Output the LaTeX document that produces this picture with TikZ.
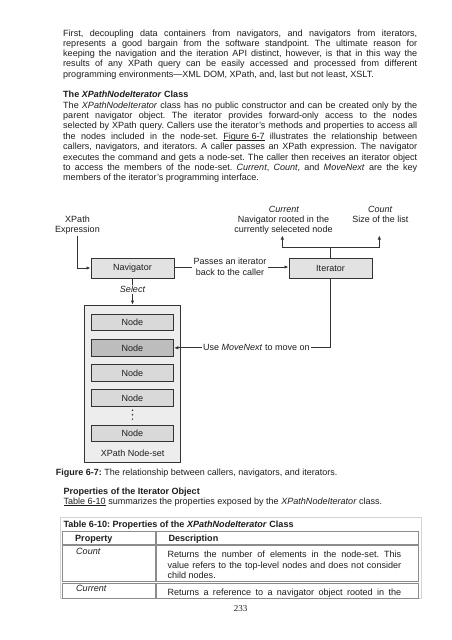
\documentclass[tikz,border=0pt]{standalone}
\usepackage{fontspec}
\setmainfont{Liberation Sans}
\newfontfamily\pnfont{Liberation Serif}
\usetikzlibrary{arrows.meta}
\frenchspacing
\definecolor{ink}{HTML}{1E1E1E}
\definecolor{linec}{HTML}{333333}
\definecolor{boxfill}{HTML}{E2E2E2}
\definecolor{setfill}{HTML}{EDEDED}
\definecolor{nodefill}{HTML}{D9D9D9}
\definecolor{selfill}{HTML}{BDBDBD}
\definecolor{tabline}{HTML}{8C8C8C}
\definecolor{tabouter}{HTML}{D4D4D4}
\newcommand\jl[2]{\hbox to #1pt{#2}}
\newcommand\myul[1]{\setbox0\hbox{#1}\rlap{\rule[-1.4pt]{\wd0}{0.55pt}}\box0\relax}
\tikzset{
  txt/.style={anchor=base west, inner sep=0pt, font=\fontsize{9.05}{10.3}\selectfont, text=ink},
  lbl/.style={anchor=base, inner sep=0pt, font=\fontsize{9}{10}\selectfont, text=ink},
  mainbox/.style={draw=linec, line width=1pt, fill=boxfill, minimum width=83pt, minimum height=20pt, inner sep=0pt, font=\fontsize{9}{10}\selectfont, text=ink},
  nodebox/.style={draw=linec, line width=1pt, fill=nodefill, minimum width=82.7pt, minimum height=16.4pt, inner sep=0pt, font=\fontsize{9}{10}\selectfont, text=ink},
  conn/.style={draw=linec, line width=0.9pt},
  arr/.style={conn, -{Latex[length=4pt,width=3.4pt]}},
  cell/.style={draw=tabline, line width=0.8pt},
}
\begin{document}
\begin{tikzpicture}[x=1pt,y=-1pt]
\path[use as bounding box, fill=white] (0,0) rectangle (452,640);
% ---- paragraph 1
\node[txt] (a1) at (63,36.2) {\jl{354}{First, decoupling data containers from navigators, and navigators from iterators,}};
\node[txt] (a2) at (63,46.45) {\jl{354}{represents a good bargain from the software standpoint. The ultimate reason for}};
\node[txt] (a3) at (63,56.7) {\jl{354}{keeping the navigation and the iteration API distinct, however, is that in this way the}};
\node[txt] (a4) at (63,66.95) {\jl{354}{results of any XPath query can be easily accessed and processed from different}};
\node[txt] (a5) at (63,77.2) {programming environments---XML DOM, XPath, and, last but not least, XSLT.};
% ---- heading
\node[txt, font=\fontsize{9.05}{10.3}\selectfont\bfseries] (h1) at (63,97.2) {The \textit{XPathNodeIterator} Class};
% ---- paragraph 2
\node[txt] (b1) at (63,108.1) {\jl{354}{The \textit{XPathNodeIterator} class has no public constructor and can be created only by the}};
\node[txt] (b2) at (63,118.5) {\jl{354}{parent navigator object. The iterator provides forward-only access to the nodes}};
\node[txt] (b3) at (63,128.9) {\jl{354}{selected by XPath query. Callers use the iterator's methods and properties to access all}};
\node[txt] (b4) at (63,139.3) {\jl{354}{the nodes included in the node-set. \myul{Figure 6-7} illustrates the relationship between}};
\node[txt] (b5) at (63,149.7) {\jl{354}{callers, navigators, and iterators. A caller passes an XPath expression. The navigator}};
\node[txt] (b6) at (63,160.1) {\jl{354}{executes the command and gets a node-set. The caller then receives an iterator object}};
\node[txt] (b7) at (63,170.5) {\jl{354}{to access the members of the node-set. \textit{Current}, \textit{Count}, and \textit{MoveNext} are the key}};
\node[txt] (b8) at (63,180.9) {members of the iterator's programming interface.};
% ---- diagram
\node[lbl] (xp1) at (77.5,222.3) {XPath};
\node[lbl] (xp2) at (77.5,232.3) {Expression};
\coordinate (xe) at (77.5,235.5);
\node[mainbox] (nav) at (132.5,268) {Navigator};
\node[mainbox] (iter) at (330.5,268) {Iterator};
\node[inner sep=1.5pt, align=center, font=\fontsize{9}{11}\selectfont, text=ink] (pass) at (230,267) {Passes an iterator\\back to the caller};
\node[lbl] (cu0) at (284,212) {\textit{Current}};
\node[lbl] (cu1) at (283.5,222.2) {Navigator rooted in the};
\node[lbl] (cu2) at (283.5,232.2) {currently seleceted node};
\node[lbl] (co0) at (380.3,212) {\textit{Count}};
\node[lbl] (co1) at (380.3,222.2) {Size of the list};
\coordinate (cur) at (282.3,235.5);
\coordinate (cnt) at (379.3,235.5);
\coordinate (jn) at (330.5,247.3);
\node[draw=linec, line width=1pt, fill=setfill, minimum width=96.4pt, minimum height=157.7pt, inner sep=0pt] (set) at (132.5,383.9) {};
\node[nodebox] (n1) at (132.4,322.5) {Node};
\node[nodebox, fill=selfill] (n2) at (132.4,347.8) {Node};
\node[nodebox] (n3) at (132.4,372.8) {Node};
\node[nodebox] (n4) at (132.4,397.8) {Node};
\node[nodebox] (n5) at (132.4,433.2) {Node};
\fill[linec] (132.5,410.3) circle (0.85) (132.5,414.7) circle (0.85) (132.5,419.1) circle (0.85);
\node[lbl] (setl) at (132.7,456.5) {XPath Node-set};
\node[inner sep=1pt, font=\fontsize{9}{10}\selectfont\itshape, text=ink] (sel) at (132.5,289.3) {Select};
\node[inner sep=1.5pt, font=\fontsize{9}{10}\selectfont, text=ink] (mn) at (256.4,347.8) {Use \textit{MoveNext} to move on};
% connectors
\draw[arr] (xe) |- (nav.west);
\draw[conn] (nav.east|-pass) -- (pass.west);
\draw[arr] (pass.east) -- (iter.west|-pass);
\draw[conn] (nav.south) -- (sel.north);
\draw[arr] (sel.south) -- (set.north);
\draw[conn] (iter.north) -- (jn);
\draw[arr] (jn) -| (cur);
\draw[arr] (jn) -| (cnt);
\draw[conn] (iter.south) |- (mn.east);
\draw[arr] (mn.west) -- (n2.east);
% caption
\node[txt, font=\fontsize{9}{10}\selectfont] (cap) at (55.7,475.8) {\textbf{Figure 6-7:} The relationship between callers, navigators, and iterators.};
% ---- properties
\node[txt, font=\fontsize{9.05}{10.3}\selectfont\bfseries] (h2) at (63.3,494) {Properties of the Iterator Object};
\node[txt] (c1) at (63.3,504.4) {\myul{Table 6-10} summarizes the properties exposed by the \textit{XPathNodeIterator} class.};
% ---- table
\draw[tabouter, line width=0.7pt] (60.3,517.5) rectangle (421.5,598.5);
\node[txt, font=\fontsize{9.05}{10.3}\selectfont\bfseries] (tt) at (63.3,527.6) {Table 6-10: Properties of the \textit{XPathNodeIterator} Class};
\draw[cell] (62.3,531) rectangle (155.3,544);
\draw[cell] (156.7,531) rectangle (418.7,544);
\draw[cell] (62.3,545.3) rectangle (155.3,581.5);
\draw[cell] (156.7,545.3) rectangle (418.7,581.5);
\draw[cell] (62.3,583) rectangle (155.3,598);
\draw[cell] (156.7,583) rectangle (418.7,598);
\node[txt, font=\fontsize{9.05}{10.3}\selectfont\bfseries] (th1) at (75,541) {Property};
\node[txt, font=\fontsize{9.05}{10.3}\selectfont\bfseries] (th2) at (168.3,541) {Description};
\node[txt, font=\fontsize{9.05}{10.3}\selectfont\itshape] (r1a) at (76,554) {Count};
\node[txt] (r1b) at (167.3,557.8) {\jl{233.7}{Returns the number of elements in the node-set. This}};
\node[txt] (r1c) at (167.3,568.1) {\jl{233.7}{value refers to the top-level nodes and does not consider}};
\node[txt] (r1d) at (167.3,578.4) {child nodes.};
\node[txt, font=\fontsize{9.05}{10.3}\selectfont\itshape] (r2a) at (76,591.3) {Current};
\node[txt] (r2b) at (167.3,595) {\jl{233.7}{Returns a reference to a navigator object rooted in the}};
% page number
\node[anchor=base, inner sep=0pt, font=\pnfont\fontsize{9}{10}\selectfont, text=ink] (pg) at (240.7,611) {233};
\end{tikzpicture}
\end{document}
